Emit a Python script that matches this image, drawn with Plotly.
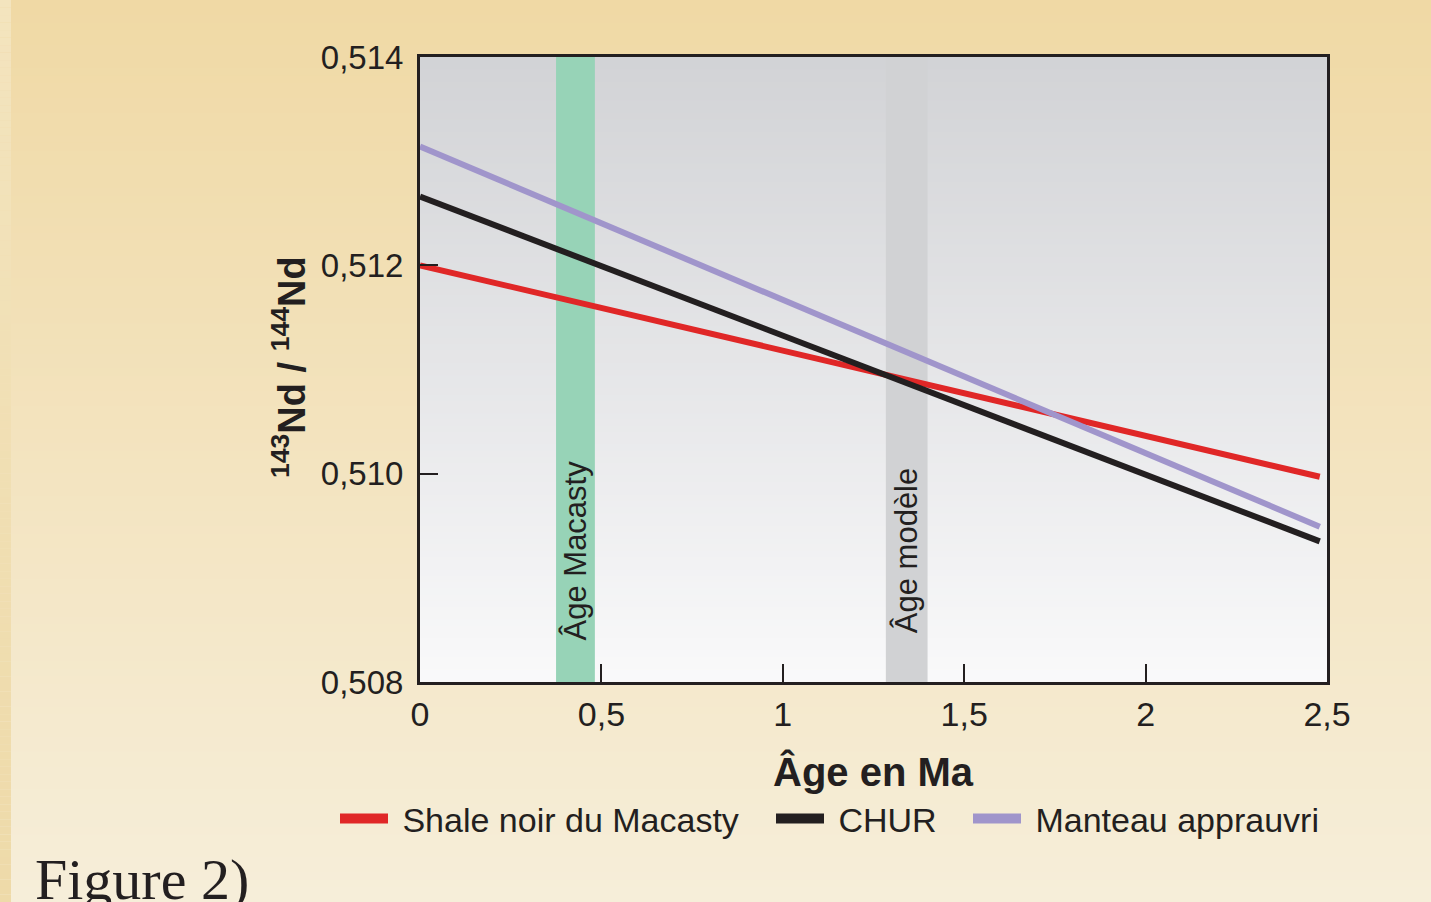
import plotly.graph_objects as go

# Age (Ma) and 143Nd/144Nd values for each evolution line
age = [0.0, 2.48]
shale_macasty = [0.51200, 0.50997]
chur = [0.51266, 0.50935]
depleted_mantle = [0.51314, 0.50949]

series_names = ["Shale noir du Macasty", "CHUR", "Manteau apprauvri"]
series_colors = ["#e02727", "#231f20", "#a095cb"]

# Vertical age bands (Ma)
macasty_band = [0.375, 0.482]
model_band = [1.284, 1.399]

x_tickvals = [0, 0.5, 1, 1.5, 2, 2.5]
x_ticktext = ["0", "0,5", "1", "1,5", "2", "2,5"]
y_tickvals = [0.508, 0.510, 0.512, 0.514]
y_ticktext = ["0,508", "0,510", "0,512", "0,514"]

W, H = 1431, 902
ML, MR, MT, MB = 420, 104, 57, 220
PW, PH = W - ML - MR, H - MT - MB

INK = "#231f20"
FONT = "Liberation Sans, Arial, sans-serif"


def mix(c0, c1, t):
    a = [int(c0[i:i + 2], 16) for i in (1, 3, 5)]
    b = [int(c1[i:i + 2], 16) for i in (1, 3, 5)]
    return "rgb(%d,%d,%d)" % tuple(round(a[k] + (b[k] - a[k]) * t) for k in range(3))


def px_to_paper_x(px):
    return (px - ML) / PW


def px_to_paper_y(py):
    return (H - MB - py) / PH


shapes = []

# Page background: vertical tan-to-cream gradient, with a narrow strip on the left edge
n = 120
for i in range(n):
    t = i / (n - 1)
    y_top = H * i / n
    y_bot = H * (i + 1) / n + 1.5
    shapes.append(dict(type="rect", xref="paper", yref="paper", layer="below",
                       x0=px_to_paper_x(0), x1=px_to_paper_x(W),
                       y0=px_to_paper_y(y_bot), y1=px_to_paper_y(y_top),
                       fillcolor=mix("#f0d9a5", "#f6eed9", t), line=dict(width=0)))
    shapes.append(dict(type="rect", xref="paper", yref="paper", layer="below",
                       x0=px_to_paper_x(0), x1=px_to_paper_x(11),
                       y0=px_to_paper_y(y_bot), y1=px_to_paper_y(y_top),
                       fillcolor=mix("#f3e4be", "#eedaa9", t), line=dict(width=0)))

# Plot area background: grey at the top fading to near white at the bottom
m = 100
for i in range(m):
    t = i / (m - 1)
    shapes.append(dict(type="rect", xref="x domain", yref="y domain", layer="below",
                       x0=0, x1=1, y0=1 - (i + 1) / m - 0.004, y1=1 - i / m,
                       fillcolor=mix("#d2d3d6", "#f9f9fa", t), line=dict(width=0)))

# Age bands
shapes.append(dict(type="rect", xref="x", yref="y domain", layer="below",
                   x0=macasty_band[0], x1=macasty_band[1], y0=0, y1=1,
                   fillcolor="#97d3b7", line=dict(width=0)))
shapes.append(dict(type="rect", xref="x", yref="y domain", layer="below",
                   x0=model_band[0], x1=model_band[1], y0=0, y1=1,
                   fillcolor="#d1d2d4", line=dict(width=0)))

fig = go.Figure()

for name, ys, col in zip(series_names, [shale_macasty, chur, depleted_mantle], series_colors):
    fig.add_trace(go.Scatter(x=age, y=ys, mode="lines", name=name, showlegend=False,
                             line=dict(color=col, width=6), hoverinfo="skip"))

# Legend entries with a thicker swatch, one legend box per entry
legend_ids = ["legend", "legend2", "legend3"]
legend_left_px = [335, 771, 968]
for name, col, lid in zip(series_names, series_colors, legend_ids):
    fig.add_trace(go.Scatter(x=[None], y=[None], mode="lines", name="\u00a0" + name,
                             legend=lid, line=dict(color=col, width=10)))

legend_style = dict(orientation="h", yanchor="middle", xanchor="left",
                    bgcolor="rgba(0,0,0,0)", itemwidth=48,
                    font=dict(family=FONT, size=34, color=INK))
legends = {lid: dict(legend_style, x=px_to_paper_x(lx), y=px_to_paper_y(819))
           for lid, lx in zip(legend_ids, legend_left_px)}

annotations = [
    dict(text="Âge en Ma", xref="paper", yref="paper", x=0.5, y=px_to_paper_y(771),
         xanchor="center", yanchor="middle", showarrow=False,
         font=dict(family=FONT, size=40, color=INK, weight="bold")),
    dict(text="<sup>143</sup>Nd / <sup>144</sup>Nd", xref="paper", yref="paper",
         x=px_to_paper_x(289), y=px_to_paper_y(367), textangle=-90,
         xanchor="center", yanchor="middle", showarrow=False,
         font=dict(family=FONT, size=38, color=INK, weight="bold")),
    dict(text="Âge Macasty", xref="x", yref="y domain",
         x=sum(macasty_band) / 2, y=px_to_paper_y(641), textangle=-90,
         xanchor="center", yanchor="bottom", showarrow=False, borderpad=0,
         font=dict(family=FONT, size=31, color=INK)),
    dict(text="Âge modèle", xref="x", yref="y domain",
         x=sum(model_band) / 2, y=px_to_paper_y(634), textangle=-90,
         xanchor="center", yanchor="bottom", showarrow=False, borderpad=0,
         font=dict(family=FONT, size=31, color=INK)),
    dict(text="Figure 2)", xref="paper", yref="paper",
         x=px_to_paper_x(33), y=px_to_paper_y(845),
         xanchor="left", yanchor="top", showarrow=False,
         font=dict(family="Liberation Serif, Times New Roman, serif", size=58, color=INK)),
]

fig.update_layout(
    width=W, height=H,
    margin=dict(l=ML, r=MR, t=MT, b=MB),
    paper_bgcolor="#f3e4c0",
    plot_bgcolor="rgba(0,0,0,0)",
    shapes=shapes,
    annotations=annotations,
    showlegend=True,
    font=dict(family=FONT, color=INK),
    **legends,
)

fig.update_xaxes(range=[0, 2.5], tickvals=x_tickvals, ticktext=x_ticktext,
                 ticks="inside", ticklen=18, tickwidth=2, tickcolor=INK,
                 showline=True, linewidth=3, linecolor=INK, mirror=True,
                 showgrid=False, zeroline=False, fixedrange=True,
                 tickfont=dict(family=FONT, size=34, color=INK))
fig.update_yaxes(range=[0.508, 0.514], tickvals=y_tickvals, ticktext=y_ticktext,
                 ticks="inside", ticklen=18, tickwidth=2, tickcolor=INK,
                 showline=True, linewidth=3, linecolor=INK, mirror=True,
                 showgrid=False, zeroline=False, fixedrange=True,
                 ticklabelstandoff=7,
                 tickfont=dict(family=FONT, size=33, color=INK))

fig.write_html("out.html", config=dict(displayModeBar=False))
